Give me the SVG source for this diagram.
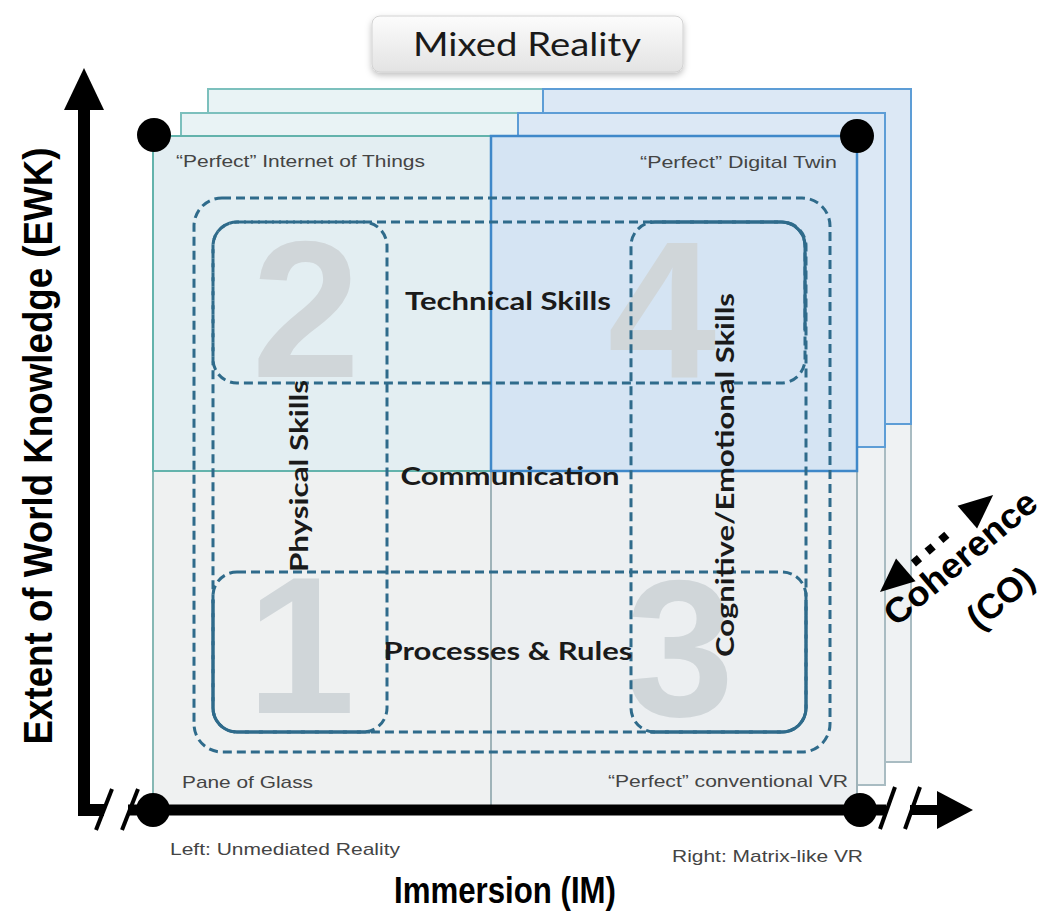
<svg xmlns="http://www.w3.org/2000/svg" width="1060" height="916" viewBox="0 0 1060 916">
<defs>
<linearGradient id="mrg" x1="0" y1="0" x2="0" y2="1"><stop offset="0" stop-color="#fcfcfc"/><stop offset="1" stop-color="#e3e3e3"/></linearGradient>
<filter id="sh" x="-10%" y="-20%" width="120%" height="160%"><feDropShadow dx="0" dy="3" stdDeviation="3" flood-color="#000" flood-opacity="0.25"/></filter>
<style>
.tl{fill:#e3eef2;stroke:#63b3ac;stroke-width:2}
.tr{fill:#d5e4f3;stroke:#3f88c9;stroke-width:2.5}
.bl{fill:#eff1f1;stroke:#86b8b4;stroke-width:2}
.br{fill:#eceff1;stroke:#9fb3b9;stroke-width:2}
.tlb{fill:#e9f3f5;stroke:#7cc0bd;stroke-width:2}
.trb{fill:#dce8f5;stroke:#5d9dd6;stroke-width:2}
.bb{fill:#eff2f3;stroke:#a9bcc2;stroke-width:2}
.dash{fill:none;stroke:#2f6b8b;stroke-width:3;stroke-dasharray:9 5}
.solid{fill:none;stroke:#2f6b8b;stroke-width:3}
.digit{font-family:"Liberation Sans",Arial,sans-serif;font-weight:bold;font-size:195px;fill:#d0d6d9;text-anchor:middle}
.lbl{font-family:Lato,"Open Sans",sans-serif;font-weight:bold;font-size:25px;fill:#1a1a1a;text-anchor:middle}
.small{font-family:"Liberation Sans",Arial,sans-serif;font-size:17px;fill:#444}
.axis{font-family:"Liberation Sans",Arial,sans-serif;font-weight:bold;fill:#000;text-anchor:middle}
.ax{stroke:#000;fill:none}
</style>
</defs>
<rect width="1060" height="916" fill="#fff"/>

<g id="title">
<rect x="372" y="16" width="311" height="56" rx="8" fill="url(#mrg)" stroke="#d2d2d2" stroke-width="1" filter="url(#sh)"/>
<text x="527" y="56" text-anchor="middle" font-family="Lato,'Open Sans',sans-serif" font-size="33" fill="#1a1a1a" textLength="228" lengthAdjust="spacingAndGlyphs">Mixed Reality</text>
</g>

<g id="pane-back">
<rect class="bb" x="208" y="424" width="335" height="338"/>
<rect class="bb" x="543" y="424" width="368" height="338"/>
<rect class="tlb" x="208" y="89" width="335" height="335"/>
<rect class="trb" x="543" y="89" width="368" height="335"/>
</g>
<g id="pane-middle">
<rect class="bb" x="181" y="447" width="337" height="338"/>
<rect class="bb" x="518" y="447" width="367" height="338"/>
<rect class="tlb" x="181" y="113" width="337" height="334"/>
<rect class="trb" x="518" y="113" width="367" height="334"/>
</g>
<g id="pane-front">
<rect class="bl" x="153" y="471" width="338" height="337"/>
<rect class="br" x="491" y="471" width="366" height="337"/>
<rect class="tl" x="153" y="136" width="338" height="335"/>
<rect class="tr" x="491" y="136" width="366" height="335"/>
</g>

<g id="digits">
<text class="digit" x="306" y="377">2</text>
<text class="digit" x="662" y="377">4</text>
<text class="digit" x="301" y="713">1</text>
<text class="digit" x="680" y="716">3</text>
</g>

<g id="corner-labels">
<text class="small" x="176" y="167" textLength="249" lengthAdjust="spacingAndGlyphs">“Perfect” Internet of Things</text>
<text class="small" x="640" y="168" textLength="197" lengthAdjust="spacingAndGlyphs">“Perfect” Digital Twin</text>
<text class="small" x="182" y="788" textLength="131" lengthAdjust="spacingAndGlyphs">Pane of Glass</text>
<text class="small" x="608" y="787" textLength="240" lengthAdjust="spacingAndGlyphs">“Perfect” conventional  VR</text>
<text class="small" x="170" y="855" textLength="230" lengthAdjust="spacingAndGlyphs">Left: Unmediated Reality</text>
<text class="small" x="672" y="862" textLength="191" lengthAdjust="spacingAndGlyphs">Right: Matrix-like VR</text>
</g>

<g id="skill-boxes">
<path class="solid" d="M213,600 V708 A24,24 0 0 0 237,732 H370"/>
<path class="solid" d="M650,732 H782 A24,24 0 0 0 806,708 V600"/>
<path class="solid" d="M650,222 H781 A24,24 0 0 1 805,246 V330"/>
<rect id="outer" class="dash" x="194" y="198" width="636" height="554" rx="28"/>
<rect id="technical" class="dash" x="213" y="222" width="592" height="161" rx="24"/>
<rect id="physical" class="dash" x="213" y="222" width="174" height="510" rx="24" style="stroke-dashoffset:7"/>
<rect id="cognitive" class="dash" x="631" y="222" width="175" height="510" rx="24" style="stroke-dashoffset:7"/>
<rect id="processes" class="dash" x="213" y="572" width="593" height="160" rx="24"/>
</g>

<g id="skill-labels">
<text class="lbl" x="508" y="310" textLength="206" lengthAdjust="spacingAndGlyphs">Technical Skills</text>
<text class="lbl" x="510" y="485" textLength="219" lengthAdjust="spacingAndGlyphs">Communication</text>
<text class="lbl" x="508" y="660" textLength="249" lengthAdjust="spacingAndGlyphs">Processes &amp; Rules</text>
<text class="lbl" transform="translate(308,476) rotate(-90)" textLength="192" lengthAdjust="spacingAndGlyphs">Physical Skills</text>
<text class="lbl" transform="translate(734,475) rotate(-90)" textLength="364" lengthAdjust="spacingAndGlyphs">Cognitive/Emotional Skills</text>
</g>

<g id="axes">
<path class="ax" d="M84,104 V810 H104" stroke-width="12"/>
<polygon points="84,68 64,110 104,110" fill="#000"/>
<line class="ax" x1="128" y1="810" x2="886" y2="810" stroke-width="11"/>
<line class="ax" x1="96" y1="830" x2="112" y2="789" stroke-width="4"/>
<line class="ax" x1="122" y1="830" x2="138" y2="789" stroke-width="4"/>
<line class="ax" x1="880" y1="829" x2="895" y2="787" stroke-width="4"/>
<line class="ax" x1="905" y1="829" x2="920" y2="787" stroke-width="4"/>
<line class="ax" x1="910" y1="810" x2="942" y2="810" stroke-width="10"/>
<polygon points="937,791 973,810 937,829" fill="#000"/>
<circle cx="154" cy="135" r="17" fill="#000"/>
<circle cx="857" cy="136" r="17" fill="#000"/>
<circle cx="153" cy="810" r="17" fill="#000"/>
<circle cx="860" cy="810" r="17" fill="#000"/>
<text class="axis" transform="translate(52,446) rotate(-90)" font-size="40" textLength="597" lengthAdjust="spacingAndGlyphs">Extent of World Knowledge (EWK)</text>
<text class="axis" x="505" y="903" font-size="36" textLength="222" lengthAdjust="spacingAndGlyphs">Immersion (IM)</text>
</g>

<g id="coherence">
<g transform="translate(880,592) rotate(-40.6)">
<polygon points="0,0 34,-15 34,15" fill="#000"/>
<rect x="44" y="-4" width="8" height="8" fill="#000"/>
<rect x="62" y="-4" width="8" height="8" fill="#000"/>
<rect x="80" y="-4" width="8" height="8" fill="#000"/>
<polygon points="149,0 115,-15 115,15" fill="#000"/>
</g>
<text class="axis" transform="translate(968,567) rotate(-40)" font-size="35" textLength="188" lengthAdjust="spacingAndGlyphs">Coherence</text>
<text class="axis" transform="translate(1008,607) rotate(-40)" font-size="35">(CO)</text>
</g>
</svg>
